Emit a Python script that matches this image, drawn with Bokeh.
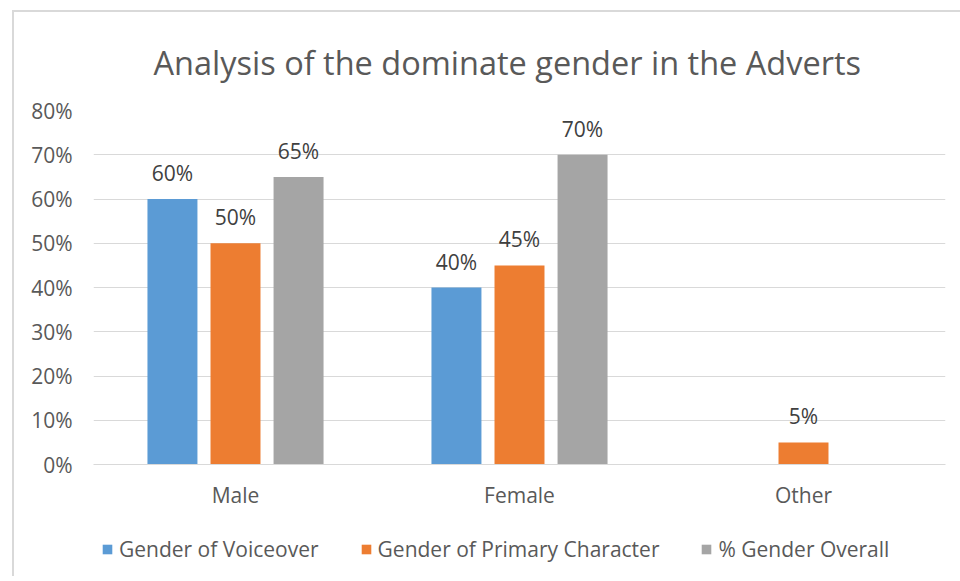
from bokeh.plotting import figure
from bokeh.layouts import column
from bokeh.models import (ColumnDataSource, FactorRange, LabelSet, Legend, LegendItem,
                          PrintfTickFormatter, FixedTicker, InlineStyleSheet)
from bokeh.transform import dodge
from bokeh.core.properties import value
from bokeh.embed import file_html
from bokeh.resources import INLINE

categories = ["Male", "Female", "Other"]
series_names = ["Gender of Voiceover", "Gender of Primary Character", "% Gender Overall"]
voiceover = [60, 40, 0]
primary_character = [50, 45, 5]
gender_overall = [65, 70, 0]
y_ticks = [0, 10, 20, 30, 40, 50, 60, 70, 80]
colors = ["#5B9BD5", "#ED7D31", "#A5A5A5"]

FONT = "Open Sans"
TEXT = "#595959"
FS = "21px"

series = [voiceover, primary_character, gender_overall]
data = {"cat": categories}
for i, s in enumerate(series):
    data[f"s{i}"] = s
    data[f"l{i}"] = [f"{v}%" if v > 0 else "" for v in s]
source = ColumnDataSource(data)

p = figure(x_range=FactorRange(factors=categories, range_padding=0), y_range=(0, 80),
           width=960, height=520, output_backend="svg", toolbar_location=None,
           min_border_left=93, min_border_right=15, min_border_top=110, min_border_bottom=56)

p.title.text = "Analysis of the dominate gender in the Adverts"
p.title.align = "left"
p.title.offset = 60
p.title.text_font = FONT
p.title.text_font_size = "32.5px"
p.title.text_font_style = "normal"
p.title.text_color = TEXT
p.title.standoff = 51

offsets = [-0.222, 0.0, 0.222]
renderers = []
for i in range(3):
    r = p.vbar(x=dodge("cat", offsets[i], range=p.x_range), top=f"s{i}", width=0.176,
               source=source, fill_color=colors[i], line_color=None)
    renderers.append(r)
    labels = LabelSet(x=dodge("cat", offsets[i], range=p.x_range), y=f"s{i}", text=f"l{i}",
                      source=source, text_align="center", text_baseline="bottom", y_offset=12,
                      text_font=value(FONT), text_font_size=FS, text_color="#404040")
    p.add_layout(labels)

p.yaxis.ticker = FixedTicker(ticks=y_ticks)
p.yaxis.formatter = PrintfTickFormatter(format="%d%%")
p.yaxis.axis_line_color = None
p.yaxis.major_tick_line_color = None
p.yaxis.minor_tick_line_color = None
p.yaxis.major_label_standoff = 15
p.yaxis.major_label_text_font = FONT
p.yaxis.major_label_text_font_size = FS
p.yaxis.major_label_text_color = TEXT

p.xaxis.axis_line_color = "#D9D9D9"
p.xaxis.major_tick_line_color = None
p.xaxis.minor_tick_line_color = None
p.xaxis.major_label_standoff = 10
p.xaxis.major_label_text_font = FONT
p.xaxis.major_label_text_font_size = FS
p.xaxis.major_label_text_color = TEXT

p.xgrid.grid_line_color = None
p.ygrid.grid_line_color = "#D9D9D9"
p.outline_line_color = None

# legend strip (frame is aligned with the main plot's frame by the column layout)
leg = figure(x_range=(0, 1), y_range=(0, 1), width=960, height=56, output_backend="svg",
             toolbar_location=None, min_border=0, x_axis_type=None, y_axis_type=None)
leg.grid.visible = False
leg.outline_line_color = None
leg_renderers = [leg.vbar(x=[0], top=[0], bottom=[0], width=0.0, fill_color=colors[i], line_color=None)
                 for i in range(3)]
legend = Legend(items=[LegendItem(label=series_names[i], renderers=[leg_renderers[i]]) for i in range(3)],
                orientation="horizontal", location=(8, 13), glyph_width=12, glyph_height=12,
                label_text_font=FONT, label_text_font_size=FS, label_text_color=TEXT,
                spacing=41, label_standoff=6, border_line_color=None, padding=0, margin=0,
                background_fill_alpha=0)
leg.add_layout(legend)

frame_css = InlineStyleSheet(css="""
:host { position: relative; }
:host::after { content: ''; position: absolute; left: 12px; top: 10px; right: 0px; bottom: 0px;
  border-left: 2px solid #D9D9D9; border-top: 2px solid #D9D9D9; pointer-events: none; }
""")
layout = column(p, leg, spacing=0, stylesheets=[frame_css])
open("out.html", "w").write(file_html(layout, INLINE))
